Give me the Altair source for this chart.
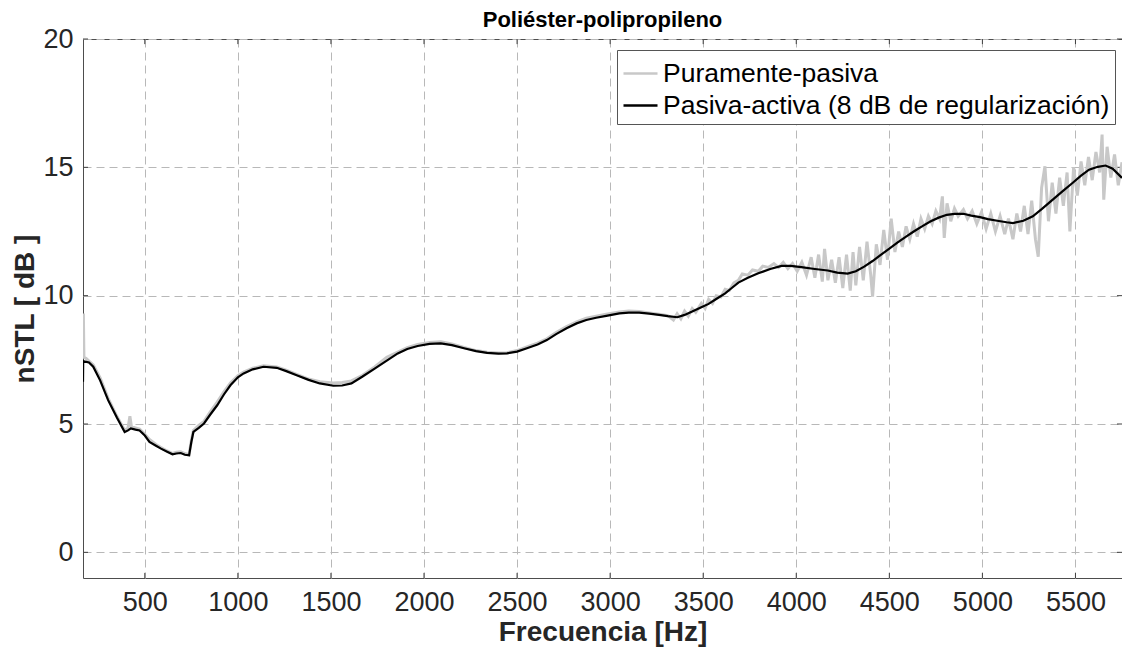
import altair as alt
import pandas as pd

TITLE = "Poliéster-polipropileno"
X_TITLE = "Frecuencia [Hz]"
Y_TITLE = "nSTL [ dB ]"
SERIES = ["Puramente-pasiva", "Pasiva-activa (8 dB de regularización)"]
X_TICKS = [500, 1000, 1500, 2000, 2500, 3000, 3500, 4000, 4500, 5000, 5500]
Y_TICKS = [0, 5, 10, 15, 20]
X_DOMAIN = [168, 5750]
Y_DOMAIN = [-1, 20]

# Puramente-pasiva (gray)
passive_freq = [168, 170, 173, 185, 200, 223, 260, 303, 350, 392, 410, 420, 428, 450, 472, 500, 525, 560,
                587, 620, 649, 670, 693, 715, 738, 750, 761, 790, 818, 850, 889, 925, 960, 1000, 1031,
                1080, 1138, 1209, 1260, 1316, 1380, 1440, 1513, 1560, 1610, 1670, 1735, 1800, 1859, 1910,
                1966, 2030, 2090, 2150, 2215, 2280, 2339, 2400, 2446, 2500, 2553, 2610, 2660, 2710, 2766,
                2820, 2872, 2925, 2979, 3050, 3100, 3156, 3210, 3263, 3310,
                3340, 3360, 3380, 3400, 3420, 3441, 3460, 3490, 3510, 3529, 3550, 3570, 3595, 3618, 3640,
                3665, 3689, 3710, 3740, 3765, 3796, 3820, 3850, 3880, 3905, 3930, 3955, 3980, 4005, 4030,
                4055, 4080, 4100, 4120, 4140, 4152, 4170, 4190, 4210, 4230, 4250, 4270, 4290, 4305, 4320,
                4340, 4360, 4380, 4400, 4410, 4430, 4450, 4470, 4490, 4510, 4530, 4550, 4570, 4590, 4610,
                4630, 4650, 4670, 4690, 4710, 4730, 4750, 4770, 4785, 4795, 4810, 4830, 4850, 4870, 4898,
                4920, 4945, 4970, 4995, 5020, 5045, 5070, 5095, 5120, 5140, 5164, 5185, 5205, 5225, 5245,
                5265, 5285, 5300, 5318, 5336, 5355, 5375, 5395, 5415, 5435, 5455, 5470, 5490, 5510, 5530,
                5550, 5570, 5590, 5610, 5630, 5643, 5652, 5670, 5690, 5710, 5730, 5750]
passive_val = [7.7, 9.3, 7.6, 7.55, 7.45, 7.3, 6.8, 6.0, 5.3, 4.75, 4.85, 5.3, 4.9, 4.85, 4.8, 4.6, 4.4, 4.2,
               4.08, 3.95, 3.85, 3.9, 3.92, 3.85, 3.8, 4.35, 4.75, 4.95, 5.1, 5.45, 5.85, 6.25, 6.6, 6.88, 7.02,
               7.17, 7.27, 7.22, 7.1, 6.93, 6.75, 6.65, 6.6, 6.62, 6.68, 6.9, 7.22, 7.6, 7.8, 7.97,
               8.1, 8.18, 8.2, 8.12, 7.98, 7.86, 7.8, 7.77, 7.78, 7.86, 8.0, 8.15, 8.32, 8.56, 8.8,
               8.98, 9.12, 9.2, 9.28, 9.36, 9.4, 9.38, 9.33, 9.28, 9.22,
               9.05, 9.3, 9.1, 9.4, 9.2, 9.5, 9.35, 9.7, 9.5, 9.85, 9.7, 10.0, 9.95, 10.25, 10.2,
               10.5, 10.6, 10.85, 10.8, 11.0, 10.95, 11.15, 11.1, 11.25, 11.1, 11.3, 11.05, 11.25, 10.95, 11.3,
               10.8, 11.5, 10.7, 11.6, 10.55, 11.82, 10.6, 11.4, 10.5, 11.5, 10.3, 11.6, 10.2, 11.7, 10.4,
               11.9, 10.6, 12.1, 10.8, 9.96, 12.0, 11.2, 12.56, 11.4, 13.0, 11.7, 12.5, 11.9, 12.7, 12.2,
               12.8, 12.3, 13.0, 12.6, 13.1, 12.8, 13.3, 13.0, 13.87, 12.25, 13.6, 12.9, 13.4, 13.1, 13.35,
               13.0, 13.3, 12.8, 13.25, 12.6, 13.2, 12.5, 13.1, 12.4, 13.0, 12.2, 13.2, 12.5, 13.5, 12.4,
               13.7, 12.2, 11.52, 14.2, 15.04, 12.9, 14.4, 13.2, 14.6, 13.5, 14.8, 12.5, 15.0, 13.9, 15.23,
               14.3, 15.4, 14.5, 15.6, 14.8, 16.28, 13.74, 15.8, 14.6, 15.5, 14.3, 15.2]

# Pasiva-activa (black)
active_freq = [168, 169, 200, 223, 260, 303, 350, 392, 410, 425, 450, 472, 500, 525, 560, 587, 620, 649, 670,
               693, 715, 738, 750, 761, 790, 818, 850, 889, 925, 960, 1000, 1031, 1080, 1138, 1209, 1260,
               1316, 1380, 1440, 1513, 1560, 1610, 1670, 1735, 1800, 1859, 1910, 1966, 2030, 2090, 2150,
               2215, 2280, 2339, 2400, 2446, 2500, 2553, 2610, 2660, 2710, 2766, 2820, 2872, 2925, 2979,
               3050, 3100, 3156, 3210, 3263, 3310, 3361, 3400, 3441, 3490, 3529, 3570, 3618, 3650, 3689,
               3740, 3796, 3860, 3921, 3970, 4027, 4100, 4169, 4220, 4276, 4320, 4365, 4410, 4454, 4500,
               4543, 4590, 4631, 4680, 4720, 4765, 4809, 4850, 4898, 4940, 4987, 5030, 5080, 5130, 5164,
               5220, 5271, 5320, 5378, 5430, 5484, 5530, 5573, 5620, 5662, 5700, 5750]
active_val = [6.65, 7.45, 7.4, 7.23, 6.7, 5.93, 5.25, 4.69, 4.75, 4.83, 4.78, 4.75, 4.55, 4.3, 4.15, 4.04, 3.92,
              3.82, 3.85, 3.87, 3.8, 3.78, 4.3, 4.69, 4.85, 5.02, 5.35, 5.73, 6.15, 6.51, 6.82, 6.97, 7.13,
              7.23, 7.19, 7.06, 6.9, 6.72, 6.58, 6.49, 6.5, 6.58, 6.85, 7.16, 7.47, 7.75, 7.92, 8.04, 8.12,
              8.14, 8.07, 7.95, 7.84, 7.77, 7.74, 7.75, 7.82, 7.95, 8.1, 8.27, 8.5, 8.73, 8.92, 9.05, 9.14,
              9.21, 9.31, 9.34, 9.34, 9.3, 9.25, 9.2, 9.16, 9.25, 9.38, 9.55, 9.68, 9.87, 10.09, 10.28, 10.51,
              10.7, 10.87, 11.04, 11.16, 11.16, 11.11, 11.04, 10.98, 10.9, 10.86, 10.95, 11.13, 11.35, 11.59,
              11.83, 12.07, 12.3, 12.5, 12.72, 12.89, 13.04, 13.15, 13.19, 13.19, 13.12, 13.06, 12.98, 12.92,
              12.86, 12.83, 12.92, 13.09, 13.38, 13.74, 14.06, 14.39, 14.68, 14.91, 15.02, 15.07, 14.95, 14.59]

FONT = "Liberation Sans"
TEXT = "#262626"

df_p = pd.DataFrame({"f": passive_freq, "v": passive_val, "s": SERIES[0]})
df_a = pd.DataFrame({"f": active_freq, "v": active_val, "s": SERIES[1]})

xscale = alt.Scale(domain=X_DOMAIN, nice=False, zero=False)
yscale = alt.Scale(domain=Y_DOMAIN, nice=False, zero=False)
cscale = alt.Scale(domain=SERIES, range=["#c8c8c8", "#000000"])

xaxis = alt.Axis(values=X_TICKS, title=X_TITLE, labelPadding=11, titlePadding=3, format="d",
                 titleFontSize=28)
yaxis = alt.Axis(values=Y_TICKS, title=Y_TITLE, labelPadding=10, titlePadding=3, titleFontSize=28)

legend = alt.Legend(
    orient="none", legendX=534, legendY=11, title=None,
    symbolType="stroke", symbolSize=1156, symbolStrokeWidth=2.5,
    labelFontSize=26.5, labelFont=FONT, labelColor="#000000", labelLimit=800,
    rowPadding=0, padding=5, labelOffset=4,
    strokeColor="#555555", fillColor="white",
)

gray = alt.Chart(df_p).mark_line(strokeWidth=3, clip=True).encode(
    x=alt.X("f:Q", scale=xscale, axis=xaxis),
    y=alt.Y("v:Q", scale=yscale, axis=yaxis),
    color=alt.Color("s:N", scale=cscale, legend=legend),
)
black = alt.Chart(df_a).mark_line(strokeWidth=2.2, clip=True).encode(
    x=alt.X("f:Q", scale=xscale),
    y=alt.Y("v:Q", scale=yscale),
    color=alt.Color("s:N", scale=cscale, legend=legend),
)

# inward tick marks (MATLAB style)
xt = pd.DataFrame({"f": X_TICKS})
yt = pd.DataFrame({"v": Y_TICKS})
tick_color = "#404040"
bt = alt.Chart(xt).mark_rule(color=tick_color, strokeWidth=1).encode(
    x=alt.X("f:Q", scale=xscale), y=alt.datum(-1), y2=alt.datum(-0.8))
tt = alt.Chart(xt).mark_rule(color=tick_color, strokeWidth=1).encode(
    x=alt.X("f:Q", scale=xscale), y=alt.datum(20), y2=alt.datum(19.8))
lt = alt.Chart(yt).mark_rule(color=tick_color, strokeWidth=1).encode(
    y=alt.Y("v:Q", scale=yscale), x=alt.datum(168), x2=alt.datum(195))
rt = alt.Chart(yt).mark_rule(color=tick_color, strokeWidth=1).encode(
    y=alt.Y("v:Q", scale=yscale), x=alt.datum(5750), x2=alt.datum(5723))

chart = alt.layer(bt, tt, lt, rt, gray, black).properties(
    width=1039, height=539,
    autosize=alt.AutoSizeParams(type="none"),
    padding={"left": 75, "top": 31, "right": 0, "bottom": 75},
    title=alt.TitleParams(TITLE, font=FONT, fontSize=22, fontWeight="bold", color="#000000",
                          offset=2, dy=9, anchor="middle"),
    background="white",
).configure_view(
    stroke="#4d4d4d", strokeWidth=1,
).configure_axis(
    grid=True, gridDash=[8, 5], gridColor="#b8b8b8", gridWidth=1,
    domain=False, ticks=False,
    labelFont=FONT, labelFontSize=27, labelColor=TEXT,
    titleFont=FONT, titleFontWeight="bold", titleColor=TEXT,
)

chart.save("out.html", embed_options={"renderer": "svg", "actions": False})
